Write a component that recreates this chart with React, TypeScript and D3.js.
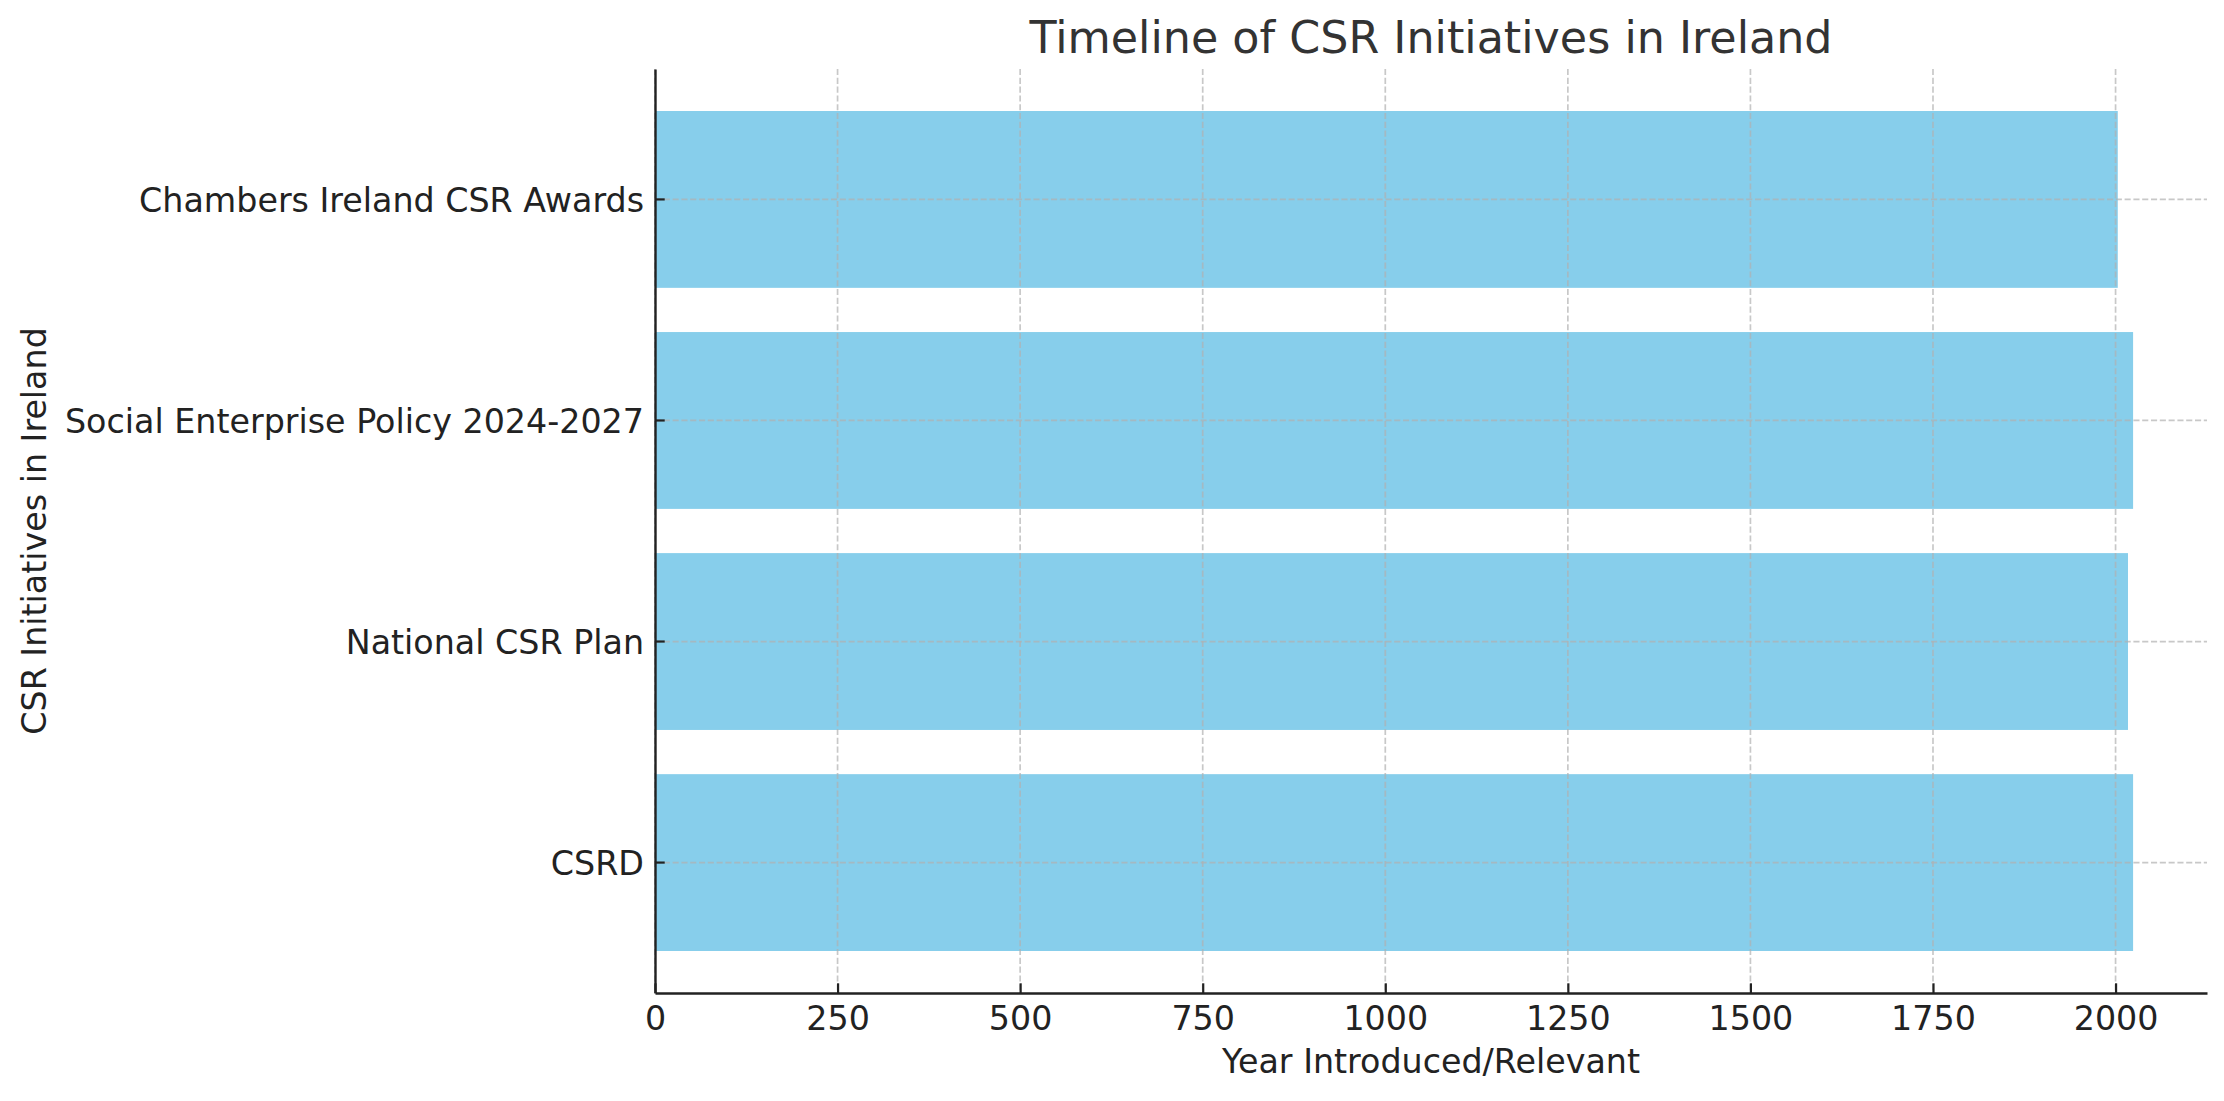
import { useEffect, useRef } from "react";
import * as d3 from "d3";

// Chart data (top to bottom, as drawn)
const initiatives = [
  "Chambers Ireland CSR Awards",
  "Social Enterprise Policy 2024-2027",
  "National CSR Plan",
  "CSRD",
];
const years = [2003, 2024, 2017, 2024];
const xTicks = [0, 250, 500, 750, 1000, 1250, 1500, 1750, 2000];

const chartTitle = "Timeline of CSR Initiatives in Ireland";
const xLabel = "Year Introduced/Relevant";
const yLabel = "CSR Initiatives in Ireland";

const App: React.FC = () => {
  const svgRef = useRef<SVGSVGElement>(null);

  useEffect(() => {
    if (!svgRef.current) return;

    const width = 2224;
    const height = 1101;
    const margin = { top: 69, right: 17, bottom: 108, left: 655 };
    const innerWidth = width - margin.left - margin.right;
    const innerHeight = height - margin.top - margin.bottom;
    const font = "DejaVu Sans, sans-serif";

    const root = d3.select(svgRef.current);
    root.selectAll("*").remove();
    root.attr("width", width).attr("height", height);

    root
      .append("rect")
      .attr("width", width)
      .attr("height", height)
      .attr("fill", "#ffffff");

    const svg = root
      .append("g")
      .attr("transform", `translate(${margin.left},${margin.top})`);

    const xMax = (d3.max(years) ?? 0) * 1.05;
    const xScale = d3.scaleLinear().domain([0, xMax]).range([0, innerWidth]);

    const yScale = d3
      .scaleBand<string>()
      .domain(initiatives)
      .range([0, innerHeight])
      .paddingInner(0.2)
      .paddingOuter(0.19);

    // Bars
    svg
      .selectAll(".bar")
      .data(initiatives)
      .enter()
      .append("rect")
      .attr("class", "bar")
      .attr("x", xScale(0))
      .attr("y", (d) => yScale(d) ?? 0)
      .attr("width", (_, i) => xScale(years[i]) - xScale(0))
      .attr("height", yScale.bandwidth())
      .attr("fill", "#87ceeb");

    // Grid (drawn over the bars)
    const grid = svg.append("g").attr("class", "grid");
    grid
      .selectAll(".vgrid")
      .data(xTicks)
      .enter()
      .append("line")
      .attr("x1", (d) => xScale(d))
      .attr("x2", (d) => xScale(d))
      .attr("y1", 0)
      .attr("y2", innerHeight)
      .attr("stroke", "#b0b0b0")
      .attr("stroke-opacity", 0.7)
      .attr("stroke-width", 1.7)
      .attr("stroke-dasharray", "6.1,2.7");
    grid
      .selectAll(".hgrid")
      .data(initiatives)
      .enter()
      .append("line")
      .attr("x1", 0)
      .attr("x2", innerWidth)
      .attr("y1", (d) => (yScale(d) ?? 0) + yScale.bandwidth() / 2)
      .attr("y2", (d) => (yScale(d) ?? 0) + yScale.bandwidth() / 2)
      .attr("stroke", "#b0b0b0")
      .attr("stroke-opacity", 0.7)
      .attr("stroke-width", 1.7)
      .attr("stroke-dasharray", "6.1,2.7");

    // X axis (ticks pointing inward)
    const xAxis = svg
      .append("g")
      .attr("transform", `translate(0,${innerHeight})`)
      .call(
        d3
          .axisBottom(xScale)
          .tickValues(xTicks)
          .tickSize(-9.7)
          .tickPadding(0)
          .tickSizeOuter(0)
          .tickFormat((d) => `${d}`)
      );
    xAxis.select(".domain").attr("stroke", "#222").attr("stroke-width", 2.4);
    xAxis.selectAll(".tick line").attr("stroke", "#222").attr("stroke-width", 2.2);
    xAxis
      .selectAll(".tick text")
      .attr("y", 37)
      .attr("dy", null)
      .attr("fill", "#222")
      .attr("font-family", font)
      .attr("font-size", 33.3);

    // Y axis (ticks pointing inward)
    const yAxis = svg.append("g").call(
      d3
        .axisLeft(yScale)
        .tickSize(-9.7)
        .tickPadding(0)
        .tickSizeOuter(0)
    );
    yAxis.select(".domain").attr("stroke", "#222").attr("stroke-width", 2.4);
    yAxis.selectAll(".tick line").attr("stroke", "#222").attr("stroke-width", 2.2);
    yAxis
      .selectAll(".tick text")
      .attr("x", -11)
      .attr("dy", "0.365em")
      .attr("fill", "#222")
      .attr("font-family", font)
      .attr("font-size", 33.3);

    // Title
    svg
      .append("text")
      .attr("x", innerWidth / 2)
      .attr("y", -16)
      .attr("text-anchor", "middle")
      .attr("font-family", font)
      .attr("font-size", 44.4)
      .attr("fill", "#333333")
      .text(chartTitle);

    // Axis labels
    svg
      .append("text")
      .attr("x", innerWidth / 2)
      .attr("y", innerHeight + 80)
      .attr("text-anchor", "middle")
      .attr("font-family", font)
      .attr("font-size", 33.3)
      .attr("fill", "#222")
      .text(xLabel);

    svg
      .append("text")
      .attr("transform", "rotate(-90)")
      .attr("x", -innerHeight / 2)
      .attr("y", -609)
      .attr("text-anchor", "middle")
      .attr("font-family", font)
      .attr("font-size", 33.3)
      .attr("fill", "#222")
      .text(yLabel);
  }, []);

  return (
    <svg
      ref={svgRef}
      style={{ position: "absolute", left: 0, top: 0, display: "block" }}
    ></svg>
  );
};

export default App;
